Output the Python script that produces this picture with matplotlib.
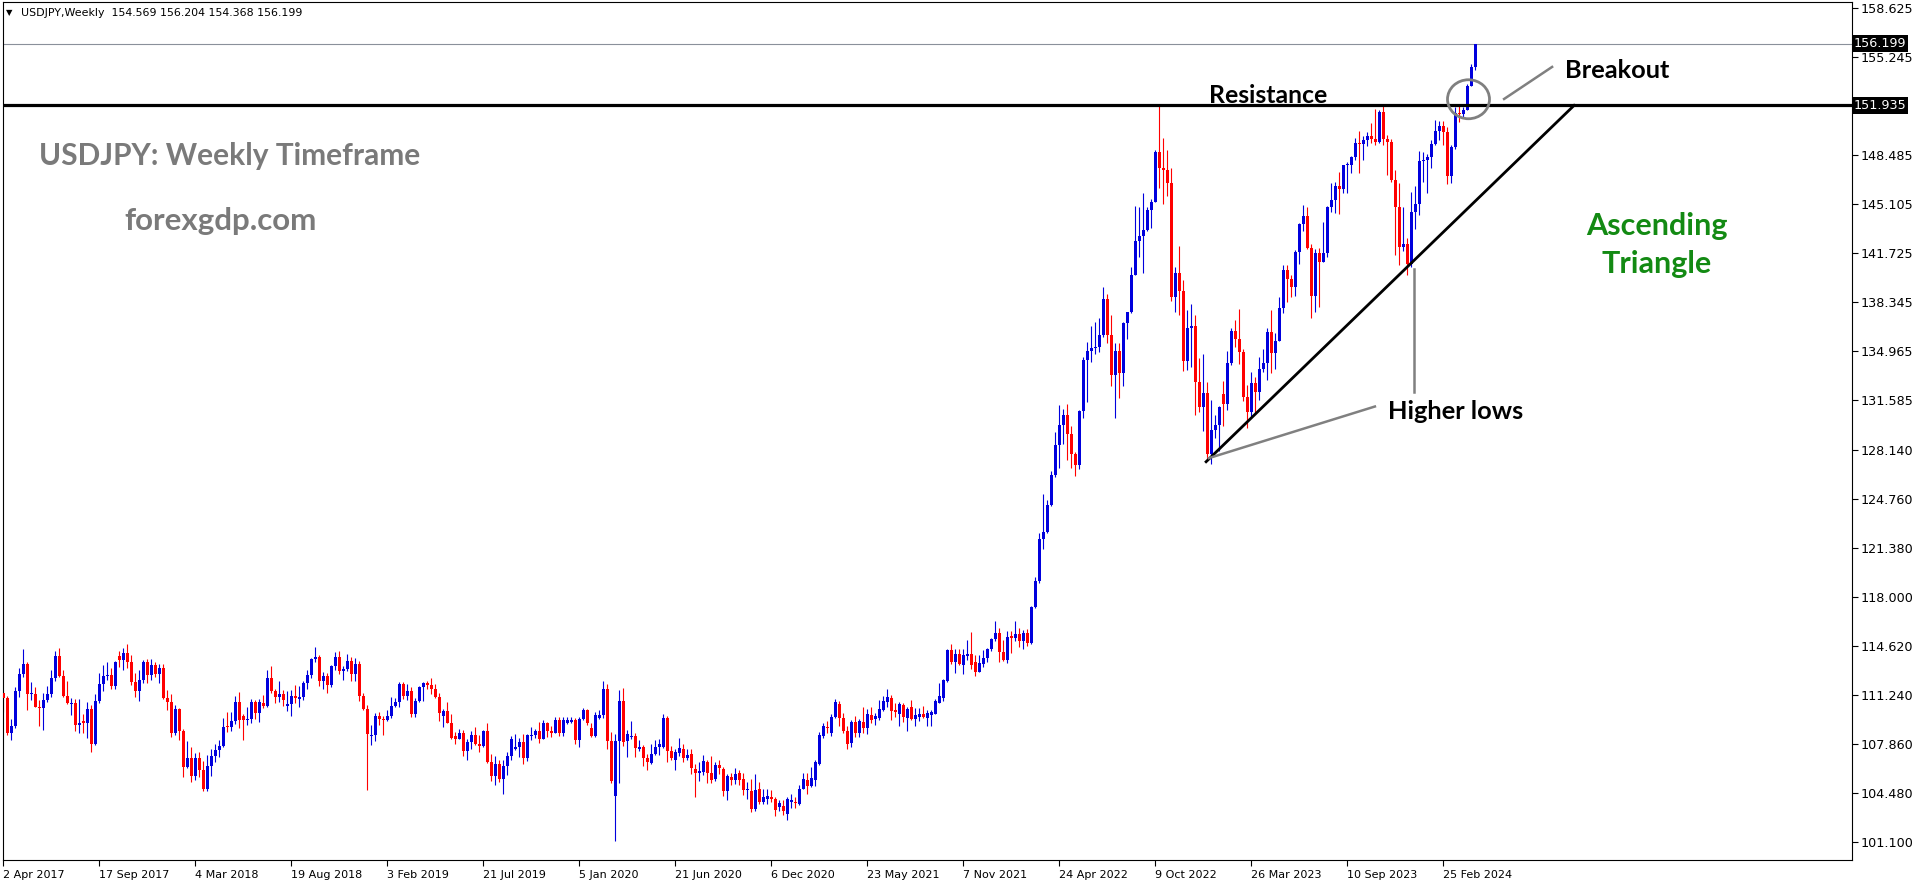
"""USDJPY weekly candles (Apr 2017 - Apr 2024) with an ascending-triangle breakout markup."""
import matplotlib
matplotlib.use("Agg")
import matplotlib.pyplot as plt
from matplotlib.patches import Ellipse
from matplotlib.transforms import blended_transform_factory
import numpy as np

# x tick labels, one every 24 weekly bars starting at bar 0
date_labels = ["2 Apr 2017", "17 Sep 2017", "4 Mar 2018", "19 Aug 2018", "3 Feb 2019",
               "21 Jul 2019", "5 Jan 2020", "21 Jun 2020", "6 Dec 2020", "23 May 2021",
               "7 Nov 2021", "24 Apr 2022", "9 Oct 2022", "26 Mar 2023", "10 Sep 2023",
               "25 Feb 2024"]
price_ticks = [158.625, 155.245, 148.485, 145.105, 141.725, 138.345, 134.965, 131.585,
               128.140, 124.760, 121.380, 118.000, 114.620, 111.240, 107.860, 104.480, 101.100]

resistance = 151.935
last_price = 156.199

opens = [
    111.40, 111.05, 108.60, 109.10, 111.50, 112.70, 113.40, 111.30, 111.35, 110.45,
    110.35, 110.90, 111.30, 112.40, 113.95, 112.55, 111.20, 110.65, 110.70, 109.20,
    109.45, 109.35, 110.30, 107.85, 110.85, 112.00, 112.55, 112.65, 111.85, 113.95,
    113.65, 114.15, 113.50, 112.15, 111.55, 112.30, 113.50, 112.65, 113.35, 112.70,
    113.15, 111.05, 110.80, 108.65, 110.30, 108.80, 106.30, 106.90, 105.70, 106.90,
    106.05, 104.75, 106.35, 107.05, 107.45, 107.75, 109.15, 109.05, 109.45, 110.80,
    109.80, 109.50, 109.60, 110.80, 110.00, 110.70, 110.50, 112.40, 111.50, 111.10,
    111.35, 110.50, 110.60, 111.20, 111.00, 111.10, 112.05, 112.65, 113.75, 113.85,
    112.25, 112.60, 111.95, 113.25, 113.85, 112.90, 113.05, 113.60, 112.70, 113.40,
    111.20, 110.30, 108.40, 108.50, 109.80, 109.60, 109.55, 109.80, 110.50, 110.80,
    112.00, 111.20, 111.55, 109.95, 110.85, 111.80, 112.05, 111.95, 111.65, 111.15,
    109.80, 110.15, 109.35, 108.40, 108.25, 108.60, 107.40, 108.00, 108.50, 107.90,
    107.75, 108.75, 106.60, 105.65, 106.50, 105.45, 106.35, 107.05, 107.50, 107.70,
    108.00, 106.90, 108.40, 108.50, 108.80, 108.25, 109.30, 108.80, 108.65, 109.50,
    108.60, 109.35, 109.40, 109.55, 108.15, 109.60, 110.20, 109.00, 108.40, 109.70,
    109.85, 111.65, 108.10, 104.30, 108.10, 110.85, 108.05, 108.35, 108.40, 107.55,
    107.65, 106.90, 106.55, 107.15, 107.65, 107.65, 109.70, 107.40, 106.75, 107.25,
    107.55, 106.90, 107.15, 106.15, 105.85, 105.95, 106.60, 105.85, 105.45, 106.40,
    106.15, 104.60, 105.60, 105.40, 105.85, 105.45, 104.70, 104.60, 103.40, 104.80,
    103.85, 104.10, 104.25, 104.05, 103.55, 103.60, 103.05, 103.90, 103.90, 103.75,
    104.75, 105.40, 104.95, 105.40, 106.50, 108.40, 109.05, 108.65, 109.75, 110.65,
    109.70, 108.80, 107.95, 109.40, 108.60, 109.40, 108.95, 109.85, 109.60, 109.65,
    110.20, 110.80, 111.05, 110.25, 109.95, 110.55, 109.70, 110.40, 109.60, 109.75,
    109.95, 109.70, 109.85, 109.95, 110.70, 111.05, 112.20, 114.35, 113.55, 114.10,
    113.35, 113.95, 114.10, 113.55, 112.85, 113.40, 113.80, 114.40, 115.10, 115.55,
    114.20, 113.70, 115.30, 115.20, 115.45, 114.95, 115.55, 114.85, 117.30, 119.15,
    122.05, 122.50, 124.35, 126.45, 128.50, 129.85, 130.55, 129.25, 127.85, 127.10,
    130.85, 134.40, 135.00, 135.20, 135.25, 136.10, 138.55, 136.10, 133.30, 135.00,
    133.45, 136.90, 137.65, 140.20, 142.55, 142.90, 143.35, 144.75, 145.30, 148.70,
    147.65, 147.45, 146.60, 138.75, 140.40, 139.15, 134.30, 136.60, 136.70, 132.85,
    131.10, 132.10, 127.90, 129.55, 129.85, 132.00, 131.35, 134.15, 136.40, 135.85,
    134.95, 131.80, 130.75, 132.80, 132.15, 133.75, 134.15, 136.30, 134.85, 135.70,
    137.95, 140.60, 139.95, 139.40, 141.85, 143.75, 144.30, 142.10, 138.80, 141.75,
    141.15, 141.75, 144.95, 145.40, 146.40, 146.20, 147.80, 147.85, 148.35, 149.35,
    149.30, 149.55, 149.85, 149.65, 149.40, 151.50, 149.60, 149.40, 146.80, 144.95,
    142.15, 142.40, 141.00, 144.60, 145.10, 148.10, 148.15, 148.35, 149.30, 150.20,
    150.50, 150.10, 147.05, 149.05, 151.40, 151.35, 151.60, 153.30, 154.569,
]
highs = [
    111.60, 111.20, 109.60, 111.80, 113.10, 114.40, 113.50, 112.15, 111.80, 110.90,
    111.40, 111.90, 113.00, 114.30, 114.50, 112.95, 112.20, 111.05, 110.95, 111.00,
    109.95, 110.80, 110.55, 111.35, 112.75, 113.30, 113.55, 113.10, 113.60, 114.30,
    114.50, 114.75, 114.00, 112.75, 112.95, 113.65, 113.75, 113.75, 113.50, 113.40,
    113.40, 111.60, 111.30, 110.55, 110.35, 108.90, 108.05, 107.70, 107.25, 107.30,
    106.70, 107.10, 107.55, 107.90, 108.15, 109.65, 110.05, 110.05, 111.20, 111.45,
    109.95, 110.40, 110.95, 110.90, 111.00, 111.25, 112.95, 113.25, 111.65, 112.25,
    111.60, 111.55, 111.60, 111.95, 111.90, 112.25, 112.95, 113.80, 114.60, 114.00,
    112.85, 112.80, 113.35, 114.20, 114.30, 113.25, 114.05, 113.85, 113.80, 113.60,
    111.40, 110.55, 109.20, 110.00, 110.10, 109.80, 110.20, 111.15, 111.05, 112.15,
    112.15, 112.00, 111.80, 111.05, 111.85, 112.15, 112.25, 112.40, 112.00, 111.40,
    110.30, 110.75, 109.95, 108.70, 108.90, 108.85, 108.25, 108.75, 109.05, 108.50,
    108.85, 109.35, 107.20, 107.05, 106.80, 106.75, 107.30, 108.40, 108.55, 108.30,
    108.55, 108.55, 109.05, 108.90, 109.40, 109.50, 109.40, 109.15, 109.75, 109.75,
    109.75, 109.75, 109.75, 109.65, 109.75, 110.35, 110.30, 109.30, 110.10, 110.20,
    112.25, 112.00, 108.70, 108.55, 111.60, 111.75, 108.85, 109.45, 108.60, 108.15,
    107.80, 107.20, 107.85, 108.15, 108.20, 109.95, 109.80, 107.75, 107.55, 108.30,
    107.90, 107.50, 107.55, 106.50, 106.60, 107.10, 106.75, 107.05, 106.65, 106.75,
    106.30, 105.80, 105.90, 106.20, 106.10, 105.85, 105.25, 105.45, 105.80, 105.25,
    104.80, 104.80, 104.70, 104.25, 104.00, 104.00, 104.20, 104.40, 104.25, 105.05,
    105.90, 105.90, 106.30, 106.75, 108.70, 109.35, 109.45, 109.95, 111.00, 110.85,
    110.00, 109.15, 109.55, 109.80, 109.60, 110.45, 110.30, 110.40, 110.00, 110.90,
    111.20, 111.70, 111.25, 110.70, 110.80, 110.70, 110.45, 110.90, 110.35, 110.35,
    110.50, 110.20, 110.25, 110.95, 112.10, 112.35, 114.45, 114.75, 114.45, 114.45,
    114.40, 115.05, 115.60, 114.00, 114.00, 114.35, 114.50, 115.20, 116.35, 115.90,
    115.05, 115.70, 115.70, 116.35, 115.85, 115.75, 115.80, 117.40, 119.40, 122.45,
    125.10, 124.70, 126.70, 129.40, 131.25, 131.00, 131.35, 129.80, 128.00, 130.95,
    134.55, 135.60, 136.70, 137.00, 137.30, 139.40, 138.90, 137.45, 135.55, 135.55,
    137.00, 137.70, 140.80, 145.00, 144.95, 145.90, 144.90, 145.45, 148.85, 151.95,
    149.70, 148.85, 147.60, 140.80, 142.25, 139.90, 137.85, 138.20, 137.45, 134.50,
    134.80, 132.85, 131.60, 130.60, 131.20, 132.90, 135.00, 136.55, 137.10, 137.90,
    135.10, 132.65, 133.55, 133.20, 134.55, 135.10, 136.55, 137.80, 136.20, 138.75,
    140.95, 140.95, 140.25, 141.95, 143.85, 145.05, 144.90, 142.40, 142.00, 142.10,
    143.90, 145.00, 146.55, 146.65, 147.35, 147.85, 148.00, 148.45, 149.70, 150.15,
    149.80, 150.10, 150.75, 151.70, 151.60, 151.90, 149.90, 149.65, 147.50, 146.60,
    144.95, 142.80, 145.95, 146.40, 148.80, 148.70, 148.60, 149.55, 150.90, 150.85,
    150.85, 150.45, 149.20, 151.85, 151.95, 151.80, 153.40, 154.80, 156.204,
]
lows = [
    110.10, 108.50, 108.15, 109.00, 111.10, 112.50, 110.25, 110.90, 110.40, 109.10,
    108.85, 110.80, 111.15, 112.20, 112.50, 111.10, 110.60, 109.90, 108.75, 108.65,
    108.65, 108.30, 107.35, 107.80, 110.70, 111.50, 112.30, 111.70, 111.65, 113.20,
    112.95, 113.10, 111.95, 111.10, 110.85, 112.10, 112.05, 112.30, 112.50, 112.10,
    110.95, 110.20, 108.35, 108.50, 108.15, 105.60, 106.20, 105.25, 105.40, 105.60,
    104.65, 104.60, 105.65, 106.65, 106.95, 107.65, 108.70, 108.80, 109.25, 109.00,
    108.15, 109.20, 109.35, 109.60, 109.40, 110.35, 110.40, 111.40, 110.70, 110.80,
    110.50, 110.15, 109.80, 110.70, 110.45, 110.90, 111.70, 112.40, 113.55, 111.90,
    111.65, 111.40, 111.80, 113.00, 112.70, 112.30, 112.90, 112.25, 112.25, 110.85,
    110.20, 104.70, 107.80, 108.05, 109.20, 108.50, 109.45, 109.70, 110.40, 110.40,
    111.00, 110.90, 109.75, 109.75, 110.80, 110.85, 111.70, 111.35, 111.05, 109.45,
    109.05, 109.30, 108.25, 107.85, 108.20, 107.05, 106.80, 107.50, 107.80, 107.30,
    107.70, 106.55, 105.35, 105.05, 105.25, 104.45, 105.75, 106.75, 107.45, 107.00,
    106.50, 106.70, 108.15, 108.30, 107.95, 108.20, 108.35, 108.35, 108.60, 108.40,
    108.40, 109.25, 109.30, 107.85, 107.70, 109.50, 109.20, 108.35, 108.35, 109.60,
    109.70, 107.50, 105.20, 101.20, 105.20, 107.75, 107.00, 108.25, 107.00, 107.40,
    106.35, 106.05, 106.50, 107.10, 107.10, 107.60, 106.60, 106.75, 106.10, 107.05,
    106.65, 106.75, 105.80, 104.25, 105.35, 105.75, 105.15, 105.20, 105.35, 105.80,
    104.30, 104.00, 105.05, 105.10, 105.05, 104.35, 104.05, 103.20, 103.25, 103.70,
    103.75, 103.75, 103.90, 102.90, 103.25, 102.95, 102.60, 103.45, 103.45, 103.65,
    104.75, 104.45, 104.90, 104.95, 106.45, 108.30, 108.65, 108.45, 109.70, 109.10,
    108.65, 107.55, 107.70, 108.35, 108.35, 108.60, 108.55, 109.35, 109.20, 109.55,
    110.15, 110.45, 109.55, 109.75, 109.15, 109.40, 108.80, 109.55, 109.10, 109.45,
    109.65, 109.10, 109.10, 109.95, 110.70, 110.85, 112.15, 113.40, 112.80, 113.35,
    112.70, 113.65, 113.05, 112.55, 112.85, 113.20, 113.55, 114.30, 115.00, 113.50,
    113.60, 113.45, 114.15, 114.95, 114.55, 114.40, 114.65, 114.80, 117.25, 119.00,
    121.30, 122.40, 124.30, 126.30, 126.95, 128.60, 127.50, 126.95, 126.35, 126.85,
    130.40, 131.50, 134.25, 134.75, 134.95, 135.95, 135.55, 132.55, 130.40, 131.75,
    132.55, 135.80, 137.60, 140.20, 141.50, 140.35, 143.25, 143.50, 145.25, 146.25,
    145.10, 145.70, 138.45, 137.65, 137.50, 133.60, 133.65, 133.90, 130.55, 130.80,
    129.50, 127.45, 127.20, 129.00, 128.10, 129.80, 130.90, 134.05, 135.30, 134.10,
    131.55, 129.65, 130.40, 130.65, 131.60, 133.55, 133.00, 133.50, 133.75, 135.65,
    137.60, 138.40, 138.75, 138.80, 141.00, 143.25, 142.00, 137.25, 137.65, 138.05,
    141.10, 141.50, 144.60, 144.50, 144.45, 145.90, 145.90, 147.30, 148.15, 147.30,
    148.15, 149.10, 149.35, 149.20, 149.35, 149.20, 147.15, 146.65, 141.60, 140.95,
    141.90, 140.25, 140.80, 143.40, 144.35, 146.65, 145.90, 147.60, 149.20, 149.55,
    149.20, 146.50, 146.60, 148.95, 150.80, 151.05, 151.60, 153.25, 154.368,
]
closes = [
    111.05, 108.60, 109.10, 111.50, 112.70, 113.40, 111.30, 111.35, 110.45, 110.35,
    110.90, 111.30, 112.40, 113.95, 112.55, 111.20, 110.70, 110.70, 109.20, 109.30,
    109.35, 110.30, 107.85, 110.85, 112.00, 112.55, 112.65, 111.85, 113.50, 113.65,
    114.15, 113.50, 112.15, 111.55, 112.30, 113.50, 112.65, 113.35, 112.70, 113.15,
    111.05, 110.80, 108.65, 110.30, 108.80, 106.30, 106.90, 105.70, 106.90, 106.05,
    104.75, 106.35, 107.05, 107.45, 107.75, 109.05, 109.05, 109.45, 110.80, 109.50,
    109.50, 109.60, 110.80, 110.00, 110.80, 110.50, 112.40, 111.50, 111.10, 111.35,
    110.90, 110.60, 111.20, 111.05, 111.10, 112.05, 112.65, 113.75, 113.85, 112.25,
    112.60, 111.95, 113.25, 113.85, 112.90, 113.05, 113.60, 112.70, 113.40, 111.20,
    110.30, 108.55, 108.50, 109.80, 109.60, 109.50, 109.80, 110.50, 110.80, 112.00,
    111.20, 111.55, 109.95, 110.85, 111.80, 112.05, 111.95, 111.65, 111.15, 110.00,
    110.15, 109.35, 108.30, 108.25, 108.60, 107.40, 108.00, 108.50, 107.90, 107.75,
    108.75, 106.60, 105.65, 106.50, 105.45, 106.35, 107.05, 108.20, 107.70, 108.00,
    106.90, 108.50, 108.50, 108.80, 108.25, 109.30, 108.80, 108.65, 109.50, 108.60,
    109.50, 109.55, 109.55, 108.15, 109.60, 110.20, 109.35, 108.40, 109.85, 109.85,
    111.65, 108.10, 105.35, 108.10, 110.85, 108.00, 108.55, 108.40, 107.60, 107.65,
    106.90, 106.65, 107.20, 107.70, 107.90, 109.70, 107.40, 106.90, 107.30, 107.60,
    106.90, 107.10, 106.20, 105.90, 106.00, 106.70, 105.85, 105.40, 106.40, 106.20,
    104.60, 105.65, 105.40, 105.80, 105.40, 104.70, 104.75, 103.40, 104.70, 103.90,
    104.25, 104.30, 104.10, 103.35, 103.80, 103.25, 104.05, 104.00, 103.80, 104.80,
    105.45, 105.00, 105.55, 106.60, 108.50, 109.10, 108.95, 109.75, 110.75, 109.70,
    108.80, 107.90, 109.40, 108.65, 109.45, 109.00, 109.95, 109.55, 109.80, 110.30,
    110.85, 111.15, 110.15, 110.10, 110.65, 109.75, 110.30, 109.60, 109.85, 109.95,
    109.75, 110.00, 110.10, 110.85, 111.20, 112.30, 114.35, 113.55, 114.10, 113.40,
    114.00, 114.10, 113.30, 112.85, 113.45, 113.80, 114.40, 115.10, 115.55, 114.20,
    113.70, 115.25, 115.20, 115.45, 114.95, 115.55, 114.85, 117.30, 119.15, 122.05,
    122.50, 124.35, 126.45, 128.50, 129.85, 130.55, 129.25, 127.85, 127.10, 130.85,
    134.40, 135.00, 135.20, 135.25, 136.10, 138.55, 136.10, 133.30, 135.00, 133.45,
    136.90, 137.65, 140.20, 142.55, 142.90, 143.35, 144.75, 145.30, 148.70, 147.65,
    147.45, 146.60, 138.75, 140.40, 139.15, 134.30, 136.60, 136.70, 132.85, 131.10,
    132.10, 127.90, 129.55, 129.85, 131.15, 131.35, 134.15, 136.40, 135.85, 134.95,
    131.80, 130.75, 132.80, 132.15, 133.75, 134.15, 136.30, 134.85, 135.70, 137.95,
    140.60, 139.95, 139.40, 141.85, 143.75, 144.30, 142.10, 138.80, 141.75, 141.15,
    141.75, 144.95, 145.40, 146.40, 146.20, 147.80, 147.85, 148.35, 149.35, 149.30,
    149.55, 149.85, 149.65, 149.40, 151.50, 149.60, 149.40, 146.80, 144.95, 142.15,
    142.40, 141.00, 144.60, 145.10, 148.10, 148.15, 148.35, 149.30, 150.20, 150.50,
    150.10, 147.05, 149.05, 151.40, 151.35, 151.60, 153.30, 154.60, 156.199,
]

BULL, BEAR = "#0000dd", "#ff0000"
W, H = 1916, 884
TXT = ["Lato", "DejaVu Sans"]

fig = plt.figure(figsize=(W / 100, H / 100), dpi=100)
ax = fig.add_axes([3 / W, 24 / H, 1849 / W, 858 / H])

o, h, l, c = (np.asarray(a, float) for a in (opens, highs, lows, closes))
x = np.arange(len(c))
col = np.where(c >= o, BULL, BEAR)
ax.vlines(x, l, h, colors=col, linewidth=0.8, zorder=2)
ax.bar(x, np.maximum(np.abs(c - o), 0.07), bottom=np.minimum(o, c), width=0.75,
       color=col, linewidth=0, zorder=3)

ax.set_xlim(-0.075, 462.175)
ax.set_ylim(99.87, 159.07)

# horizontal levels
ax.axhline(last_price, color="#8a909a", lw=0.8, zorder=1)
ax.axhline(resistance, color="black", lw=2.3, zorder=4)

# axes look (MT4 style)
for s in ax.spines.values():
    s.set_linewidth(0.8)
    s.set_color("black")
ax.set_xticks(np.arange(0, 24 * len(date_labels), 24))
ax.set_xticklabels(date_labels, ha="left", fontsize=8, family="DejaVu Sans")
ax.tick_params(axis="x", length=4, width=0.8, pad=3, direction="out")
ax.yaxis.tick_right()
ax.set_yticks(price_ticks)
ax.set_yticklabels([f"{v:.3f}" for v in price_ticks], fontsize=9.2, family="DejaVu Sans")
ax.tick_params(axis="y", length=4, width=0.8, pad=2, direction="out")

trans = blended_transform_factory(ax.transAxes, ax.transData)
for v in (last_price, resistance):
    ax.text(1.0008, v, f"{v:.3f}", transform=trans, color="white", fontsize=9.2,
            family="DejaVu Sans", ha="left", va="center", zorder=6,
            bbox=dict(boxstyle="square,pad=0.14", fc="black", ec="none"))

# header
fig.text(6 / W, 1 - 12.5 / H, "\u25bc", fontsize=6, va="center", family="DejaVu Sans")
fig.text(21 / W, 1 - 12.5 / H, "USDJPY,Weekly  154.569 156.204 154.368 156.199",
         fontsize=7.9, va="center", family="DejaVu Sans")

# pattern markup
ax.plot([300.7, 392.7], [127.35, resistance], color="black", lw=2, zorder=5)
gray = "#808080"
ax.plot([301.4, 342.9], [127.6, 131.16], color=gray, lw=1.8, zorder=5)
ax.plot([352.7, 352.7], [140.65, 132.16], color=gray, lw=1.8, zorder=5)
ax.plot([375.2, 387.2], [152.38, 154.59], color=gray, lw=1.8, zorder=5)
ax.add_patch(Ellipse((366.3, 152.36), 10.5, 2.69, fill=False, ec=gray, lw=2, zorder=5))

ax.text(8.9, 147.83, "USDJPY: Weekly Timeframe", color="#7a7a7a", fontsize=21.5,
        fontweight="bold", family=TXT, va="baseline")
ax.text(30.3, 143.34, "forexgdp.com", color="#7a7a7a", fontsize=22.5,
        fontweight="bold", family=TXT, va="baseline")
ax.text(301.4, 152.125, "Resistance", color="black", fontsize=17.8, fontweight="bold",
        family=TXT, va="baseline", zorder=6)
ax.text(390.4, 153.81, "Breakout", color="black", fontsize=18.3, fontweight="bold",
        family=TXT, va="baseline")
ax.text(346.2, 130.30, "Higher lows", color="black", fontsize=18.3, fontweight="bold",
        family=TXT, va="baseline")
ax.text(413.3, 143.00, "Ascending", color="#138a13", fontsize=22, fontweight="bold",
        family=TXT, va="baseline", ha="center")
ax.text(413.3, 140.38, "Triangle", color="#138a13", fontsize=22, fontweight="bold",
        family=TXT, va="baseline", ha="center")

fig.savefig("out.png", dpi=100, facecolor="white")
